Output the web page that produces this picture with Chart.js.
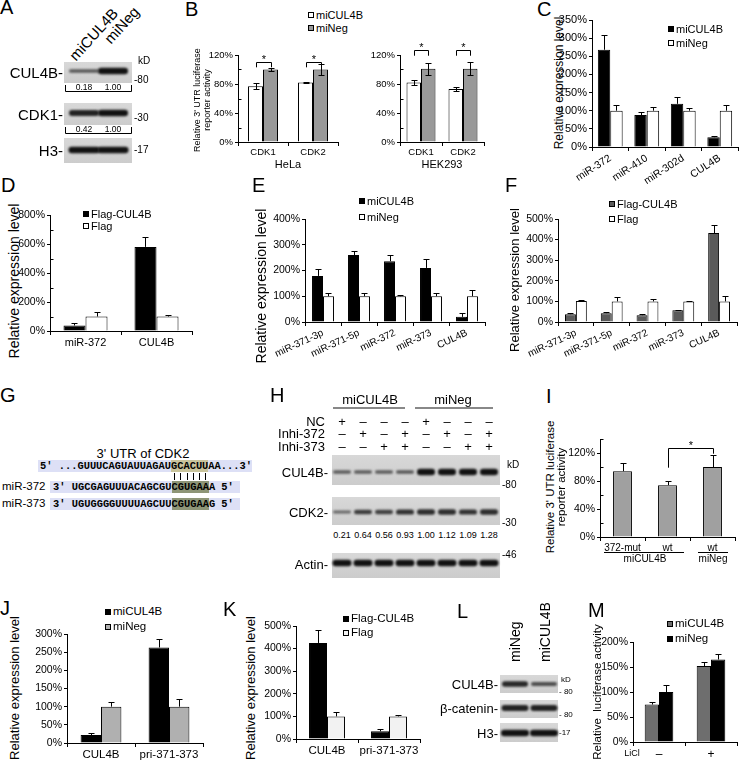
<!DOCTYPE html>
<html>
<head>
<meta charset="utf-8">
<title>Figure</title>
<script src="https://cdn.jsdelivr.net/npm/chart.js@4.4.1/dist/chart.umd.min.js"></script>
<style>
  html, body { margin:0; padding:0; background:#fff; }
  #fig { position:relative; width:740px; height:760px; overflow:hidden; background:#fff;
         font-family:'Liberation Sans', Arial, Helvetica, sans-serif; color:#000; }
  .t { position:absolute; white-space:pre; line-height:1; }
  .b { position:absolute; box-sizing:border-box; }
  canvas { position:absolute; }
  .mono { font-family:'Liberation Mono', 'Courier New', monospace; font-weight:bold; }
</style>
</head>
<body>
<div id="fig"></div>
<script>
// ================= DATA =================
// Panel A (western blot)
const aLanes = ['miCUL4B', 'miNeg'];
const aCUL4B = [0.35, 1.0];
const aCDK1 = [0.85, 1.0];
const aH3 = [1.0, 1.0];
const aCUL4BQuant = ['0.18', '1.00'];
const aCDK1Quant = ['0.42', '1.00'];

// Panel B
const bCategories = ['CDK1', 'CDK2'];
const bTicks = [0, 40, 80, 120];
const bHelaMiCUL4B = [77, 82];
const bHelaMiCUL4BErr = [4, 1];
const bHelaMiNeg = [100, 100];
const bHelaMiNegErr = [2, 8];
const bHekMiCUL4B = [82, 73];
const bHekMiCUL4BErr = [3, 3];
const bHekMiNeg = [101, 101];
const bHekMiNegErr = [8, 9];

// Panel C
const cCategories = ['miR-372', 'miR-410', 'miR-302d', 'CUL4B'];
const cTicks = [0, 50, 100, 150, 200, 250, 300, 350];
const cMiCUL4B = [268, 88, 119, 27];
const cMiCUL4BErr = [42, 8, 18, 4];
const cMiNeg = [100, 100, 100, 100];
const cMiNegErr = [16, 10, 8, 16];

// Panel D
const dCategories = ['miR-372', 'CUL4B'];
const dTicks = [0, 200, 400, 600, 800];
const dFlagCUL4B = [38, 580];
const dFlagCUL4BErr = [14, 70];
const dFlag = [100, 100];
const dFlagErr = [32, 12];

// Panels E, F
const efCategories = ['miR-371-3p', 'miR-371-5p', 'miR-372', 'miR-373', 'CUL4B'];
const eTicks = [0, 100, 200, 300, 400];
const eMiCUL4B = [179, 260, 236, 210, 20];
const eMiCUL4BErr = [26, 15, 24, 35, 16];
const eMiNeg = [100, 100, 100, 100, 100];
const eMiNegErr = [12, 12, 3, 12, 25];
const fTicks = [0, 100, 200, 300, 400, 500];
const fFlagCUL4B = [38, 43, 33, 57, 432];
const fFlagCUL4BErr = [4, 4, 4, 3, 37];
const fFlag = [102, 100, 100, 100, 100];
const fFlagErr = [5, 20, 12, 4, 25];

// Panel G
const gTitle = "3' UTR of CDK2";
const gTarget = "5' ...GUUUCAGUAUUAGAUGCACUUAA...3'";
const gMir372 = "3' UGCGAGUUUACAGCGUCGUGAAA 5'";
const gMir373 = "3' UGUGGGGUUUUAGCUUCGUGAAG 5'";
const gSeedStart = 21, gSeedLen = 6;

// Panel H (western blot)
const hNC      = ['+', '–', '–', '–', '+', '–', '–', '–'];
const hInhi372 = ['–', '+', '–', '+', '–', '+', '–', '+'];
const hInhi373 = ['–', '–', '+', '+', '–', '–', '+', '+'];
const hCUL4B = [0.3, 0.3, 0.3, 0.35, 1, 1, 1, 1];
const hCDK2 = [0.2, 0.6, 0.55, 0.7, 0.75, 0.75, 0.7, 0.75];
const hActin = [1, 1, 1, 1, 1, 1, 1, 1];
const hCDK2Quant = ['0.21', '0.64', '0.56', '0.93', '1.00', '1.12', '1.09', '1.28'];

// Panel I
const iCategories = ['372-mut', 'wt', 'wt'];
const iTicks = [0, 40, 80, 120];
const iActivity = [94, 74, 100];
const iActivityErr = [12, 6, 17];

// Panel J
const jCategories = ['CUL4B', 'pri-371-373'];
const jTicks = [0, 50, 100, 150, 200, 250, 300];
const jMiCUL4B = [22, 263];
const jMiCUL4BErr = [5, 22];
const jMiNeg = [100, 100];
const jMiNegErr = [13, 20];

// Panel K
const kCategories = ['CUL4B', 'pri-371-373'];
const kTicks = [0, 100, 200, 300, 400, 500];
const kFlagCUL4B = [425, 34];
const kFlagCUL4BErr = [58, 12];
const kFlag = [100, 100];
const kFlagErr = [18, 8];

// Panel L (western blot)
const lLanes = ['miNeg', 'miCUL4B'];
const lCUL4B = [0.8, 0.45];
const lBcat = [0.85, 0.85];
const lH3 = [1, 1];

// Panel M
const mCategories = ['–', '+'];
const mTicks = [0, 50, 100, 150, 200];
const mMiCUL4B = [75, 152];
const mMiCUL4BErr = [6, 8];
const mMiNeg = [100, 165];
const mMiNegErr = [14, 12];

// ================= HELPERS =================
const FF = "'Liberation Sans', Arial, Helvetica, sans-serif";
Chart.defaults.font.family = FF;
Chart.defaults.color = '#000';
const fig = document.getElementById('fig');

function T(s, x, y, size, o = {}) {
  const d = document.createElement('div');
  d.className = 't' + (o.cls ? ' ' + o.cls : '');
  d.textContent = s;
  d.style.fontSize = size + 'px';
  d.style.left = x + 'px';
  d.style.top = y + 'px';
  if (o.color) d.style.color = o.color;
  const ax = o.align === 'left' ? '0' : o.align === 'right' ? '-100%' : '-50%';
  const ay = o.valign === 'top' ? '0' : '-50%';
  d.style.transformOrigin = '0 0';
  d.style.transform = (o.rot ? `rotate(${o.rot}deg) ` : '') + `translate(${ax}, ${ay})`;
  fig.appendChild(d);
  return d;
}
function R(x, y, w, h, bg, bd) {
  const d = document.createElement('div');
  d.className = 'b';
  Object.assign(d.style, { left: x + 'px', top: y + 'px', width: w + 'px', height: h + 'px', background: bg || 'transparent' });
  if (bd) d.style.border = bd;
  fig.appendChild(d);
  return d;
}
function legendItem(x, y, color, label, size) {
  R(x, y - 3, 6, 6, color, '1px solid #000');
  T(label, x + 8, y, size, { align: 'left' });
}
function letter(s, x, y) { T(s, x, y - 3, 20, { align: 'left', valign: 'top' }); }

function barChart(o) {
  const padT = o.padT ?? 8, padR = o.padR ?? 4;
  const [pl, pt, pr, pb] = o.plot;
  const left = pl - o.yW, top = pt - padT;
  const w = pr + padR - left, h = pb + o.xH - top;
  const cv = document.createElement('canvas');
  cv.width = w; cv.height = h;
  cv.style.left = left + 'px'; cv.style.top = top + 'px';
  cv.style.width = w + 'px'; cv.style.height = h + 'px';
  fig.appendChild(cv);
  const extras = {
    id: 'extras',
    afterDatasetsDraw(chart) {
      const ctx = chart.ctx, ys = chart.scales.y;
      ctx.save();
      ctx.strokeStyle = '#000'; ctx.fillStyle = '#000'; ctx.lineWidth = 1;
      chart.data.datasets.forEach((ds, i) => {
        const meta = chart.getDatasetMeta(i);
        meta.data.forEach((el, j) => {
          const e = ds.errors && ds.errors[j];
          if (!e) return;
          const v = ds.data[j];
          const x = Math.round(el.x) + 0.5;
          const yt = Math.round(ys.getPixelForValue(v + e)) + 0.5;
          const yb = o.twoSided ? Math.round(ys.getPixelForValue(v - e)) + 0.5 : el.y;
          const c = o.cap ?? 3;
          ctx.beginPath();
          ctx.moveTo(x, yb); ctx.lineTo(x, yt);
          ctx.moveTo(x - c, yt); ctx.lineTo(x + c, yt);
          if (o.twoSided) { ctx.moveTo(x - c, yb); ctx.lineTo(x + c, yb); }
          ctx.stroke();
        });
      });
      const ax = Math.round(chart.chartArea.left) + 0.5;
      (o.minor || []).forEach(v => {
        const y = Math.round(ys.getPixelForValue(v)) + 0.5;
        ctx.beginPath(); ctx.moveTo(ax, y); ctx.lineTo(ax + 3, y); ctx.stroke();
      });
      (o.brackets || []).forEach(b => {
        const x1 = Math.round(chart.getDatasetMeta(b.a[0]).data[b.a[1]].x) + 0.5;
        const x2 = Math.round(chart.getDatasetMeta(b.b[0]).data[b.b[1]].x) + 0.5;
        const yT = Math.round(ys.getPixelForValue(b.top)) + 0.5;
        const yL = ys.getPixelForValue(b.l), yR = ys.getPixelForValue(b.r);
        ctx.beginPath(); ctx.moveTo(x1, yL); ctx.lineTo(x1, yT); ctx.lineTo(x2, yT); ctx.lineTo(x2, yR); ctx.stroke();
        ctx.font = `${b.size || 11}px ${FF}`; ctx.textAlign = 'center'; ctx.textBaseline = 'middle';
        ctx.fillText('*', (x1 + x2) / 2, yT - 3);
      });
      ctx.restore();
    }
  };
  return new Chart(cv, {
    type: 'bar',
    data: {
      labels: o.labels,
      datasets: o.datasets.map(d => ({ data: d.data, errors: d.err, backgroundColor: d.color, borderColor: '#000',
        borderWidth: 1, categoryPercentage: o.catPct, barPercentage: 1 }))
    },
    options: {
      responsive: false, maintainAspectRatio: false, animation: false, devicePixelRatio: 1, events: [],
      layout: { padding: { top: padT, right: padR, left: 0, bottom: 0 } },
      plugins: { legend: { display: false }, tooltip: { enabled: false } },
      scales: {
        x: {
          type: 'category', offset: true,
          grid: { display: true, offset: true, drawOnChartArea: false, drawTicks: true, tickLength: 4, color: '#000', lineWidth: 1 },
          border: { display: true, color: '#000', width: 1 },
          ticks: { color: '#000', font: { size: o.xFont }, padding: o.xPad ?? 1, autoSkip: false,
                   maxRotation: o.rot || 0, minRotation: o.rot || 0 },
          afterFit(s) { s.height = o.xH; s.paddingLeft = 0; s.paddingRight = 0; s.paddingTop = 0; s.paddingBottom = 0; }
        },
        y: {
          type: 'linear', min: o.min ?? 0, max: o.max,
          grid: { display: true, drawOnChartArea: false, drawTicks: true, tickLength: 3, color: '#000', lineWidth: 1 },
          border: { display: true, color: '#000', width: 1 },
          ticks: { color: '#000', font: { size: o.yFont }, padding: 2, callback: v => v + '%' },
          afterBuildTicks(s) { s.ticks = o.yTicks.map(v => ({ value: v })); },
          afterFit(s) { s.width = o.yW; s.paddingTop = 0; s.paddingBottom = 0; s.paddingLeft = 0; s.paddingRight = 0; }
        }
      }
    },
    plugins: [extras]
  });
}

function blotCanvas(x0, y0, w, h, draw) {
  const cv = document.createElement('canvas');
  cv.width = w; cv.height = h;
  cv.style.left = x0 + 'px'; cv.style.top = y0 + 'px';
  cv.style.width = w + 'px'; cv.style.height = h + 'px';
  fig.appendChild(cv);
  const ctx = cv.getContext('2d');
  ctx.translate(-x0, -y0);
  draw(ctx);
}
function membrane(ctx, x, y, w, h, lanes, strengths, cy, bw) {
  const g = ctx.createLinearGradient(x, y, x, y + h);
  g.addColorStop(0, '#d8d8d8'); g.addColorStop(0.5, '#d2d2d2'); g.addColorStop(1, '#cccccc');
  ctx.fillStyle = g; ctx.fillRect(x, y, w, h);
  lanes.forEach((cx, i) => {
    const s = strengths[i];
    const t = 2 + 4.5 * s, a = 0.45 + 0.55 * s;
    ctx.save();
    ctx.filter = 'blur(0.9px)';
    ctx.fillStyle = `rgba(18,18,18,${a})`;
    ctx.beginPath();
    ctx.roundRect(cx - bw / 2, cy - t / 2, bw, t, t / 2);
    ctx.fill();
    ctx.restore();
  });
}

// ================= PANEL A =================
letter('A', 0, 0);
T(aLanes[0], 72, 58, 15, { align: 'left', rot: -48 });
T(aLanes[1], 107, 41, 15, { align: 'left', rot: -48 });
const aLaneX = [84, 113];
blotCanvas(60, 58, 76, 108, ctx => {
  membrane(ctx, 64, 62, 68, 21, aLaneX, aCUL4B, 71, 30);
  membrane(ctx, 64, 103, 68, 22, aLaneX, aCDK1, 113, 30);
  membrane(ctx, 64, 138, 68, 25, aLaneX, aH3, 150, 31);
  ctx.strokeStyle = '#000'; ctx.lineWidth = 1;
  [[85, 91.5], [127, 133.5]].forEach(([t, b]) => {
    ctx.beginPath(); ctx.moveTo(65.5, t); ctx.lineTo(65.5, b); ctx.lineTo(131.5, b); ctx.lineTo(131.5, t); ctx.stroke();
  });
});
aCUL4BQuant.forEach((q, i) => T(q, aLaneX[i], 87, 8.5));
aCDK1Quant.forEach((q, i) => T(q, aLaneX[i], 129, 8.5));
T('CUL4B-', 63, 72, 15, { align: 'right' });
T('CDK1-', 63, 114, 15, { align: 'right' });
T('H3-', 63, 150, 15, { align: 'right' });
T('kD', 138, 61, 10, { align: 'left' });
T('-80', 134, 80, 10, { align: 'left' });
T('-30', 134, 118, 10, { align: 'left' });
T('-17', 134, 150, 10, { align: 'left' });

// ================= PANEL B =================
letter('B', 185, 2);
legendItem(308, 15, '#fff', 'miCUL4B', 11);
legendItem(308, 28, '#999', 'miNeg', 11);
T("Relative 3' UTR luciferase", 197, 100, 9, { rot: -90 });
T('reporter activity', 207, 100, 9, { rot: -90 });
barChart({
  plot: [238, 55, 338, 142], yW: 34, xH: 14, padT: 8, padR: 4, labels: bCategories, yTicks: bTicks, min: 0, max: 120,
  yFont: 9.5, xFont: 9.5, catPct: 0.6, twoSided: true, cap: 3, minor: [20, 60, 100],
  datasets: [{ data: bHelaMiCUL4B, err: bHelaMiCUL4BErr, color: '#fff' }, { data: bHelaMiNeg, err: bHelaMiNegErr, color: '#999' }],
  brackets: [{ a: [0, 0], b: [1, 0], top: 110, l: 103, r: 103 }, { a: [0, 1], b: [1, 1], top: 110, l: 103, r: 103 }]
});
T('HeLa', 288, 164, 11);
barChart({
  plot: [400, 55, 484, 142], yW: 34, xH: 14, padT: 16, padR: 4, labels: bCategories, yTicks: bTicks, min: 0, max: 120,
  yFont: 9.5, xFont: 9.5, catPct: 0.69, twoSided: true, cap: 3, minor: [20, 60, 100],
  datasets: [{ data: bHekMiCUL4B, err: bHekMiCUL4BErr, color: '#fff' }, { data: bHekMiNeg, err: bHekMiNegErr, color: '#999' }],
  brackets: [{ a: [0, 0], b: [1, 0], top: 127, l: 119, r: 119 }, { a: [0, 1], b: [1, 1], top: 127, l: 119, r: 119 }]
});
T('HEK293', 442, 164, 11);

// ================= PANEL C =================
letter('C', 537, 2);
T('Relative expression level', 559, 83, 12, { rot: -90 });
barChart({
  plot: [592, 20, 738, 147], yW: 40, xH: 45, padT: 8, padR: 2, labels: cCategories, yTicks: cTicks, min: 0, max: 350,
  yFont: 11, xFont: 10.5, rot: 33, catPct: 0.68,
  datasets: [{ data: cMiCUL4B, err: cMiCUL4BErr, color: '#000' }, { data: cMiNeg, err: cMiNegErr, color: '#fff' }]
});
legendItem(668, 29, '#000', 'miCUL4B', 11);
legendItem(668, 43, '#fff', 'miNeg', 11);

// ================= PANEL D =================
letter('D', 1, 178);
T('Relative expression level', 14, 281, 14, { rot: -90 });
barChart({
  plot: [50, 215, 192, 331], yW: 36, xH: 20, padT: 8, padR: 4, labels: dCategories, yTicks: dTicks, min: 0, max: 800,
  yFont: 10.5, xFont: 11, catPct: 0.62, minor: [100, 300, 500, 700],
  datasets: [{ data: dFlagCUL4B, err: dFlagCUL4BErr, color: '#000' }, { data: dFlag, err: dFlagErr, color: '#fff' }]
});
legendItem(83, 214, '#000', 'Flag-CUL4B', 11);
legendItem(83, 226, '#fff', 'Flag', 11);

// ================= PANEL E =================
letter('E', 252, 178);
T('Relative expression level', 261, 286, 14, { rot: -90 });
barChart({
  plot: [305, 219, 485, 322], yW: 37, xH: 40, padT: 8, padR: 4, labels: efCategories, yTicks: eTicks, min: 0, max: 400,
  yFont: 10.5, xFont: 10, rot: 25, catPct: 0.61,
  datasets: [{ data: eMiCUL4B, err: eMiCUL4BErr, color: '#000' }, { data: eMiNeg, err: eMiNegErr, color: '#fff' }]
});
legendItem(359, 201, '#000', 'miCUL4B', 11);
legendItem(359, 217, '#fff', 'miNeg', 11);

// ================= PANEL F =================
letter('F', 505, 178);
T('Relative expression level', 514, 280, 13, { rot: -90 });
barChart({
  plot: [558, 219, 737, 322], yW: 42, xH: 40, padT: 8, padR: 2, labels: efCategories, yTicks: fTicks, min: 0, max: 500,
  yFont: 10.5, xFont: 10, rot: 25, catPct: 0.61,
  datasets: [{ data: fFlagCUL4B, err: fFlagCUL4BErr, color: '#5a5a5a' }, { data: fFlag, err: fFlagErr, color: '#fff' }]
});
legendItem(609, 204, '#5a5a5a', 'Flag-CUL4B', 11);
legendItem(609, 219, '#fff', 'Flag', 11);

// ================= PANEL G =================
letter('G', 0, 388);
T(gTitle, 143, 453, 13);
const CW = 6.24;
R(38, 460, 214, 12, '#dde0f6');
R(40 + gSeedStart * CW, 460, gSeedLen * CW, 12, '#c9c49c');
R(50, 481, 190, 12, '#dde0f6');
R(53 + 19 * CW, 481, gSeedLen * CW, 12, '#8e9577');
R(50, 498, 190, 12, '#dde0f6');
R(53 + 19 * CW, 498, gSeedLen * CW, 12, '#8e9577');
T(gTarget, 40, 466, 10.4, { align: 'left', cls: 'mono' });
for (let k = 0; k < gSeedLen; k++) R(Math.round(40 + (gSeedStart + k) * CW + CW / 2) - 0.5, 473, 1, 7, '#000');
T(gMir372, 53, 487, 10.4, { align: 'left', cls: 'mono' });
T(gMir373, 53, 504, 10.4, { align: 'left', cls: 'mono' });
T('miR-372', 2, 487, 11.5, { align: 'left' });
T('miR-373', 2, 504, 11.5, { align: 'left' });

// ================= PANEL H =================
letter('H', 270, 388);
const hLaneX = [342, 363, 384, 405, 426, 447, 468, 489];
T('miCUL4B', 370, 399, 13);
R(333, 407, 72, 1.5, '#888');
T('miNeg', 453, 399, 13);
R(415, 407, 78, 1.5, '#888');
T('NC', 325, 421, 13, { align: 'right' });
T('Inhi-372', 325, 433, 13, { align: 'right' });
T('Inhi-373', 325, 446, 13, { align: 'right' });
hLaneX.forEach((x, i) => {
  T(hNC[i], x, 421, 13);
  T(hInhi372[i], x, 433, 13);
  T(hInhi373[i], x, 446, 13);
  T(hCDK2Quant[i], x, 535, 9);
});
blotCanvas(330, 452, 172, 130, ctx => {
  membrane(ctx, 332, 455, 168, 30, hLaneX, hCUL4B, 472, 18);
  membrane(ctx, 332, 497, 168, 28, hLaneX, hCDK2, 512, 18);
  membrane(ctx, 332, 553, 168, 25, hLaneX, hActin, 563, 19);
});
T('CUL4B-', 328, 472, 13, { align: 'right' });
T('CDK2-', 328, 512, 13, { align: 'right' });
T('Actin-', 328, 564, 13, { align: 'right' });
T('kD', 507, 465, 10, { align: 'left' });
T('-80', 502, 485, 10, { align: 'left' });
T('-30', 502, 523, 10, { align: 'left' });
T('-46', 502, 555, 10, { align: 'left' });

// ================= PANEL I =================
letter('I', 546, 389);
T("Relative 3' UTR luciferase", 551, 487, 11.5, { rot: -90 });
T('reporter activity', 562, 487, 11.5, { rot: -90 });
barChart({
  plot: [600, 439, 735, 537], yW: 36, xH: 14, padT: 8, padR: 4, labels: iCategories, yTicks: iTicks, min: 0, max: 140,
  yFont: 10.5, xFont: 10, catPct: 0.42, minor: [20, 60, 100, 140],
  datasets: [{ data: iActivity, err: iActivityErr, color: '#a0a0a0' }],
  brackets: [{ a: [0, 1], b: [0, 2], top: 127, l: 99, r: 119 }]
});
R(604, 552, 80, 1, '#000');
R(698, 552, 30, 1, '#000');
T('miCUL4B', 645, 559, 10);
T('miNeg', 713, 559, 10);

// ================= PANEL J =================
letter('J', 0, 601);
T('Relative expression level', 14, 688, 13, { rot: -90 });
barChart({
  plot: [67, 634, 203, 743], yW: 36, xH: 17, padT: 8, padR: 2, labels: jCategories, yTicks: jTicks, min: 0, max: 300,
  yFont: 10.5, xFont: 11.5, catPct: 0.6,
  datasets: [{ data: jMiCUL4B, err: jMiCUL4BErr, color: '#000' }, { data: jMiNeg, err: jMiNegErr, color: '#b0b0b0' }]
});
legendItem(105, 612, '#000', 'miCUL4B', 11.5);
legendItem(105, 627, '#b0b0b0', 'miNeg', 11.5);

// ================= PANEL K =================
letter('K', 223, 602);
T('Relative expression level', 250, 688, 13, { rot: -90 });
barChart({
  plot: [296, 626, 420, 739], yW: 36, xH: 20, padT: 8, padR: 3, labels: kCategories, yTicks: kTicks, min: 0, max: 500,
  yFont: 10.5, xFont: 11.5, catPct: 0.58,
  datasets: [{ data: kFlagCUL4B, err: kFlagCUL4BErr, color: '#000' }, { data: kFlag, err: kFlagErr, color: '#f2f2f2' }]
});
legendItem(343, 619, '#000', 'Flag-CUL4B', 11.5);
legendItem(343, 633, '#f2f2f2', 'Flag', 11.5);

// ================= PANEL L =================
letter('L', 457, 604);
const lLaneX = [515, 544];
T(lLanes[0], 515, 662, 14, { align: 'left', rot: -90 });
T(lLanes[1], 545, 662, 14, { align: 'left', rot: -90 });
blotCanvas(498, 672, 62, 72, ctx => {
  membrane(ctx, 500, 675, 58, 18, lLaneX, lCUL4B, 684, 26);
  membrane(ctx, 500, 700, 58, 18, lLaneX, lBcat, 708, 27);
  membrane(ctx, 500, 723, 58, 19, lLaneX, lH3, 733, 28);
});
T('CUL4B-', 498, 684, 13, { align: 'right' });
T('β-catenin-', 498, 708, 13, { align: 'right' });
T('H3-', 498, 733, 13, { align: 'right' });
T('kD', 561, 680, 8, { align: 'left' });
T('- 80', 559, 692, 8, { align: 'left' });
T('- 80', 559, 715, 8, { align: 'left' });
T('-17', 559, 733, 8, { align: 'left' });

// ================= PANEL M =================
letter('M', 588, 603);
T('Relative  luciferase activity', 598, 692, 11.5, { rot: -90 });
barChart({
  plot: [633, 642, 737, 742], yW: 37, xH: 16, padT: 8, padR: 3, labels: mCategories, yTicks: mTicks, min: 0, max: 200,
  yFont: 10.5, xFont: 12, catPct: 0.55,
  datasets: [{ data: mMiCUL4B, err: mMiCUL4BErr, color: '#6e6e6e' }, { data: mMiNeg, err: mMiNegErr, color: '#000' }]
});
T('LiCl', 632, 753, 9);
legendItem(667, 624, '#6e6e6e', 'miCUL4B', 11.5);
legendItem(667, 639, '#000', 'miNeg', 11.5);
</script>
</body>
</html>
